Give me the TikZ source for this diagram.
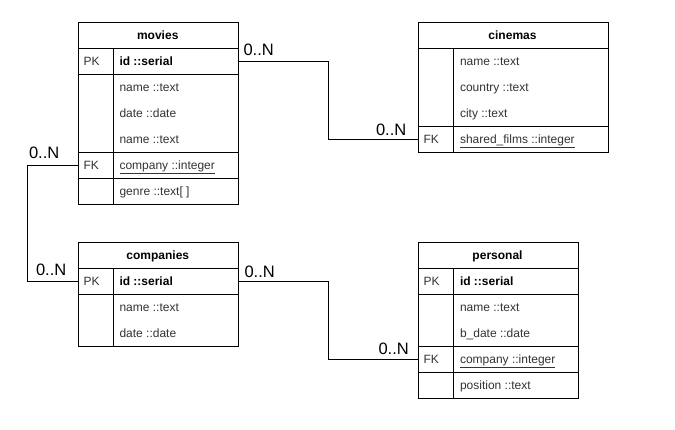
\documentclass[tikz,border=0pt]{standalone}
\usepackage{fontspec}
\setmainfont{Liberation Sans}
\definecolor{txt}{HTML}{333333}
\begin{document}
\begin{tikzpicture}[x=1pt,y=-1pt,line width=1pt,
  box/.style={draw, inner sep=0pt, anchor=north west},
  fld/.style={anchor=base west, inner sep=0pt, text=txt, font=\fontsize{12}{14}\selectfont},
  pkf/.style={fld, text=black, font=\fontsize{12}{14}\selectfont\bfseries},
  hdr/.style={anchor=base, inner sep=0pt, text=black, font=\fontsize{12}{14}\selectfont\bfseries},
  card/.style={anchor=base west, inner sep=0pt, font=\fontsize{16.5}{18}\selectfont},
  link/.style={draw, line width=1pt}]
\fill[white] (0,0) rectangle (675,429);
\useasboundingbox (0,0) rectangle (675,429);

% ---------- movies ----------
\node[box, minimum width=160.5, minimum height=26] (movH) at (77.5,22) {};
\node[box, minimum width=160.5, minimum height=26] (movPK) at (77.5,48) {};
\node[box, minimum width=160.5, minimum height=78] (movA) at (77.5,74) {};
\node[box, minimum width=160.5, minimum height=26] (movFK) at (77.5,152) {};
\node[box, minimum width=160.5, minimum height=26] (movG) at (77.5,178) {};
\draw (113,48) -- (113,204);
\node[hdr] (tmovH) at (157.75,39.5) {movies};
\node[fld] (tmovPKk) at (83,65) {PK};
\node[pkf] (tmovPK) at (119,65) {id ::serial};
\node[fld] (tmov1) at (119,91) {name ::text};
\node[fld] (tmov2) at (119,117) {date ::date};
\node[fld] (tmov3) at (119,143) {name ::text};
\node[fld] (tmovFKk) at (83,169) {FK};
\node[fld] (tmovFK) at (119,169) {\underline{company ::integer}};
\node[fld] (tmov4) at (119,195) {genre ::text[ ]};

% ---------- cinemas ----------
\node[box, minimum width=190, minimum height=26] (cinH) at (417.5,22) {};
\node[box, minimum width=190, minimum height=78] (cinA) at (417.5,48) {};
\node[box, minimum width=190, minimum height=26] (cinFK) at (417.5,126) {};
\draw (453.5,48) -- (453.5,152);
\node[hdr] (tcinH) at (512.5,39.5) {cinemas};
\node[fld] (tcin1) at (459.5,65) {name ::text};
\node[fld] (tcin2) at (459.5,91) {country ::text};
\node[fld] (tcin3) at (459.5,117) {city ::text};
\node[fld] (tcinFKk) at (423,143) {FK};
\node[fld] (tcinFK) at (459.5,143) {\underline{shared\_films ::integer}};

% ---------- companies ----------
\node[box, minimum width=160.5, minimum height=26] (comH) at (77.5,242) {};
\node[box, minimum width=160.5, minimum height=26] (comPK) at (77.5,268) {};
\node[box, minimum width=160.5, minimum height=52] (comA) at (77.5,294) {};
\draw (113,268) -- (113,346);
\node[hdr] (tcomH) at (157.75,259.5) {companies};
\node[fld] (tcomPKk) at (83,285) {PK};
\node[pkf] (tcomPK) at (119,285) {id ::serial};
\node[fld] (tcom1) at (119,311) {name ::text};
\node[fld] (tcom2) at (119,337) {date ::date};

% ---------- personal ----------
\node[box, minimum width=160, minimum height=26] (perH) at (417.5,242) {};
\node[box, minimum width=160, minimum height=26] (perPK) at (417.5,268) {};
\node[box, minimum width=160, minimum height=52] (perA) at (417.5,294) {};
\node[box, minimum width=160, minimum height=26] (perFK) at (417.5,346) {};
\node[box, minimum width=160, minimum height=26] (perP) at (417.5,372) {};
\draw (453.5,268) -- (453.5,398);
\node[hdr] (tperH) at (497.5,259.5) {personal};
\node[fld] (tperPKk) at (423,285) {PK};
\node[pkf] (tperPK) at (459.5,285) {id ::serial};
\node[fld] (tper1) at (459.5,311) {name ::text};
\node[fld] (tper2) at (459.5,337) {b\_date ::date};
\node[fld] (tperFKk) at (423,363) {FK};
\node[fld] (tperFK) at (459.5,363) {\underline{company ::integer}};
\node[fld] (tper3) at (459.5,389) {position ::text};

% ---------- connectors ----------
\draw[link] (movPK.east) -- ++(89.5,0) |- (cinFK.west);
\draw[link] (movFK.west) -- ++(-50,0) |- (comPK.west);
\draw[link] (comPK.east) -- ++(89.5,0) |- (perFK.west);

% ---------- cardinalities ----------
\node[card] (c1) at (243,55.5) {0..N};
\node[card] (c2) at (375.5,135) {0..N};
\node[card] (c3) at (28.5,158.3) {0..N};
\node[card] (c4) at (35.5,275) {0..N};
\node[card] (c5) at (244,277.3) {0..N};
\node[card] (c6) at (378,354) {0..N};
\end{tikzpicture}
\end{document}
